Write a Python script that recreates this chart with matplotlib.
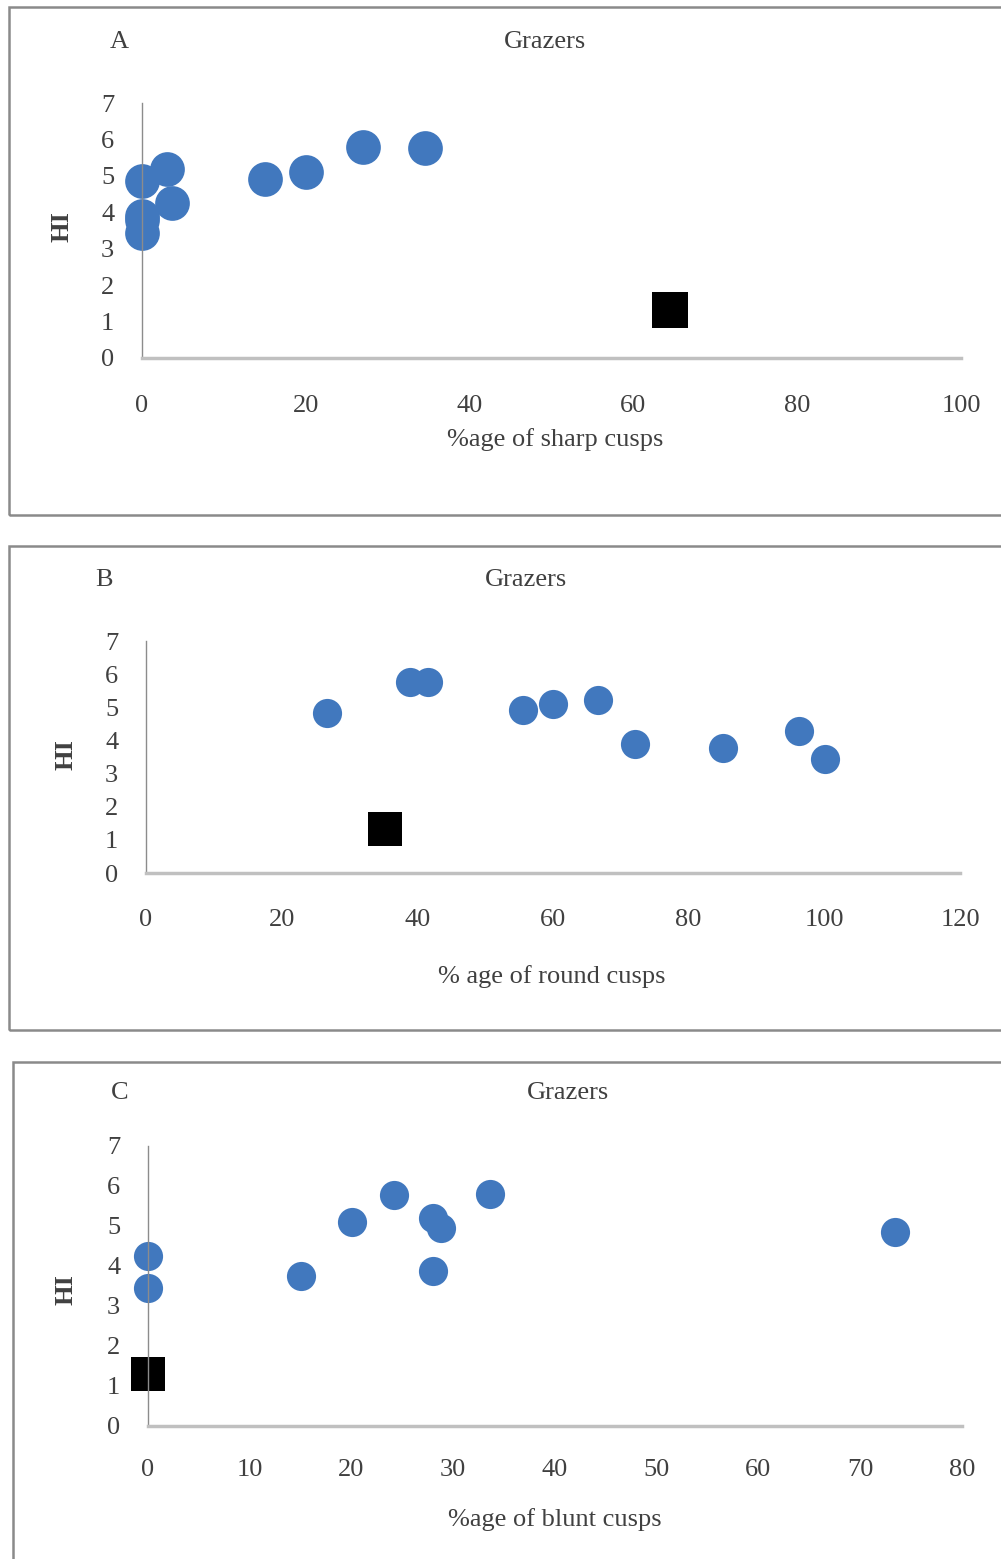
import matplotlib
matplotlib.use('Agg')
import matplotlib.pyplot as plt
from matplotlib.patches import Rectangle

plt.rcParams['font.family'] = ['Liberation Serif', 'DejaVu Serif']

# Panel A: %age of sharp cusps vs HI
sharp_x = [0, 3, 3.7, 0, 0, 0, 15, 20, 27, 34.5]
sharp_hi = [4.86, 5.2, 4.26, 3.9, 3.8, 3.43, 4.92, 5.1, 5.8, 5.77]
sharp_sq = (64.5, 1.32)

# Panel B: %age of round cusps vs HI
round_x = [26.7, 38.9, 41.6, 55.6, 60.0, 66.7, 72.1, 85.1, 96.3, 100.1]
round_hi = [4.83, 5.77, 5.77, 4.92, 5.1, 5.22, 3.9, 3.78, 4.29, 3.44]
round_sq = (35.2, 1.33)

# Panel C: %age of blunt cusps vs HI
blunt_x = [0, 0, 15.0, 20.0, 24.2, 28.0, 28.8, 28.0, 33.6, 73.4]
blunt_hi = [4.25, 3.45, 3.75, 5.1, 5.78, 5.2, 4.95, 3.88, 5.8, 4.85]
blunt_sq = (0, 1.3)

W, H = 1001, 1559
BLUE = '#4178BE'
TXT = '#404040'

fig = plt.figure(figsize=(W / 100, H / 100), dpi=100)


def fx(px):
    return px / W


def fy(py):
    return 1 - py / H


def panel(x0px, x1px, y0px, y1px, xs, ys, sq, xmax, xstep, circ, sqsz,
          letter, letter_pos, title_pos, hi_pos, xlabel, xlabel_pos,
          frame, tickpad):
    ax = fig.add_axes([fx(x0px), fy(y0px), fx(x1px - x0px), (y0px - y1px) / H])
    ax.plot(xs, ys, 'o', color=BLUE, markersize=circ, markeredgewidth=0,
            clip_on=False)
    ax.plot([sq[0]], [sq[1]], 's', color='black', markersize=sqsz,
            markeredgewidth=0, clip_on=False)
    ax.set_xlim(0, xmax)
    ax.set_ylim(0, 7)
    ax.set_xticks(range(0, xmax + 1, xstep))
    ax.set_yticks(range(0, 8))
    for s in ['top', 'right']:
        ax.spines[s].set_visible(False)
    ax.spines['left'].set_color('#8c8c8c')
    ax.spines['left'].set_linewidth(1.0)
    ax.spines['bottom'].set_color('#c0c0c0')
    ax.spines['bottom'].set_linewidth(2.5)
    ax.tick_params(length=0, labelsize=19, colors=TXT)
    ax.tick_params(axis='x', pad=tickpad)
    ax.tick_params(axis='y', pad=20)
    ax.patch.set_alpha(0)

    fig.text(fx(letter_pos[0]), fy(letter_pos[1]), letter, fontsize=19,
             color=TXT, ha='center', va='center')
    fig.text(fx(title_pos[0]), fy(title_pos[1]), 'Grazers', fontsize=19,
             color=TXT, ha='center', va='center')
    fig.text(fx(hi_pos[0]), fy(hi_pos[1]), 'HI', fontsize=19, color=TXT,
             ha='center', va='center', rotation=90, fontweight='bold')
    fig.text(fx(xlabel_pos[0]), fy(xlabel_pos[1]), xlabel, fontsize=19,
             color=TXT, ha='center', va='center')

    # outer frame
    fl, ft, fr, fb = frame
    fig.patches.append(Rectangle((fx(fl), fy(fb)), fx(fr - fl), (fb - ft) / H,
                                 transform=fig.transFigure, fill=False,
                                 edgecolor='#8a8a8a', linewidth=1.8))
    return ax


panel(142, 961, 358, 103, sharp_x, sharp_hi, sharp_sq, 100, 20, 25, 26,
      'A', (119, 42), (545, 42), (62, 227), '%age of sharp cusps', (555, 440),
      (9, 7, 1010, 515), 27)

panel(146, 960, 873, 641, round_x, round_hi, round_sq, 120, 20, 21, 25,
      'B', (104, 580), (526, 580), (66, 755), '% age of round cusps', (552, 977),
      (9, 546, 1010, 1030), 26)

panel(148, 962, 1426, 1146, blunt_x, blunt_hi, blunt_sq, 80, 10, 21, 24,
      'C', (120, 1093), (568, 1093), (66, 1290), '%age of blunt cusps', (555, 1520),
      (13, 1062, 1010, 1570), 24)

fig.savefig('out.png', dpi=100)
